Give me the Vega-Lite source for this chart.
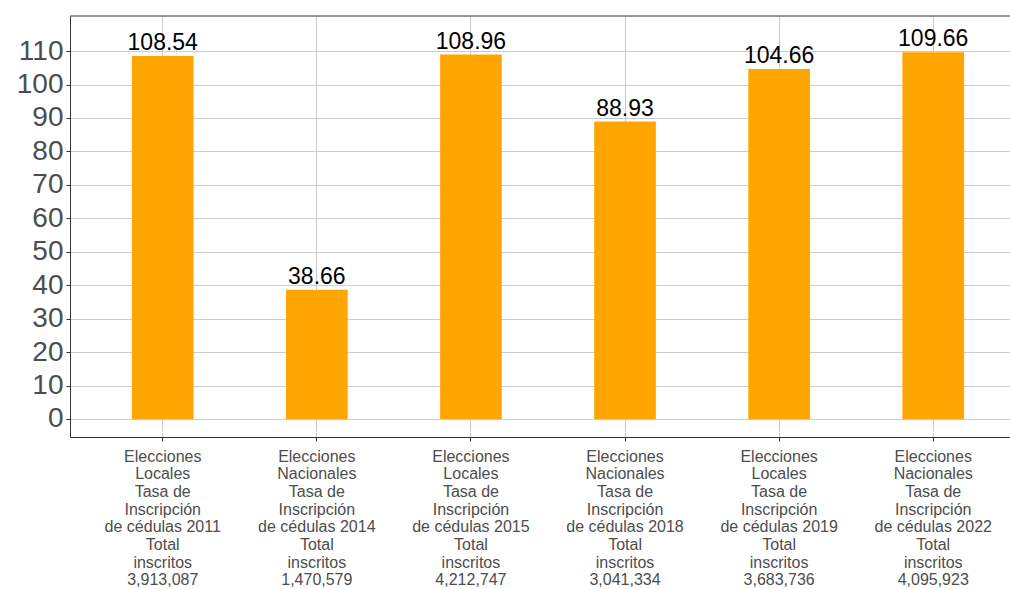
{
  "$schema": "https://vega.github.io/schema/vega-lite/v6.json",
  "autosize": {"type": "none"},
  "padding": {"left": 70, "top": 16, "right": 0, "bottom": 152},
  "width": 940,
  "height": 421,
  "background": "white",
  "config": {
    "view": {"stroke": null},
    "font": "Liberation Sans",
    "axis": {
      "gridColor": "#cccccc",
      "gridWidth": 1,
      "domainColor": "#333333",
      "tickColor": "#333333",
      "tickSize": 4,
      "labelColor": "#4d4d4d",
      "titleColor": "#4d4d4d"
    }
  },
  "data": {
    "values": [
      {"eleccion": "Elecciones|Locales|Tasa de|Inscripción|de cédulas 2011|Total|inscritos|3,913,087", "tasa": 108.54},
      {"eleccion": "Elecciones|Nacionales|Tasa de|Inscripción|de cédulas 2014|Total|inscritos|1,470,579", "tasa": 38.66},
      {"eleccion": "Elecciones|Locales|Tasa de|Inscripción|de cédulas 2015|Total|inscritos|4,212,747", "tasa": 108.96},
      {"eleccion": "Elecciones|Nacionales|Tasa de|Inscripción|de cédulas 2018|Total|inscritos|3,041,334", "tasa": 88.93},
      {"eleccion": "Elecciones|Locales|Tasa de|Inscripción|de cédulas 2019|Total|inscritos|3,683,736", "tasa": 104.66},
      {"eleccion": "Elecciones|Nacionales|Tasa de|Inscripción|de cédulas 2022|Total|inscritos|4,095,923", "tasa": 109.66}
    ]
  },
  "encoding": {
    "x": {
      "field": "eleccion",
      "type": "nominal",
      "sort": null,
      "title": null,
      "scale": {"paddingInner": 0.6, "paddingOuter": 0.35, "align": 0.574},
      "axis": {
        "labelAngle": 0,
        "labelFontSize": 16,
        "labelLineHeight": 17.7,
        "labelPadding": 7,
        "labelExpr": "split(datum.label, '|')",
        "grid": true
      }
    },
    "y": {
      "field": "tasa",
      "type": "quantitative",
      "title": null,
      "scale": {"domain": [-5.4, 120.5], "nice": false, "zero": false},
      "axis": {
        "values": [0, 10, 20, 30, 40, 50, 60, 70, 80, 90, 100, 110],
        "labelFontSize": 28,
        "labelPadding": 3,
        "grid": true
      }
    }
  },
  "layer": [
    {
      "mark": {"type": "bar", "color": "#FFA500"},
      "encoding": {"y2": {"datum": 0}}
    },
    {
      "mark": {"type": "text", "fontSize": 23, "color": "black", "baseline": "alphabetic", "dy": -6},
      "encoding": {"text": {"field": "tasa", "type": "quantitative", "format": ".2f"}}
    },
    {
      "data": {"values": [{"top": 120.5}]},
      "mark": {"type": "rule", "color": "#333333", "strokeWidth": 1},
      "encoding": {"y": {"field": "top", "type": "quantitative"}, "x": null}
    }
  ]
}
